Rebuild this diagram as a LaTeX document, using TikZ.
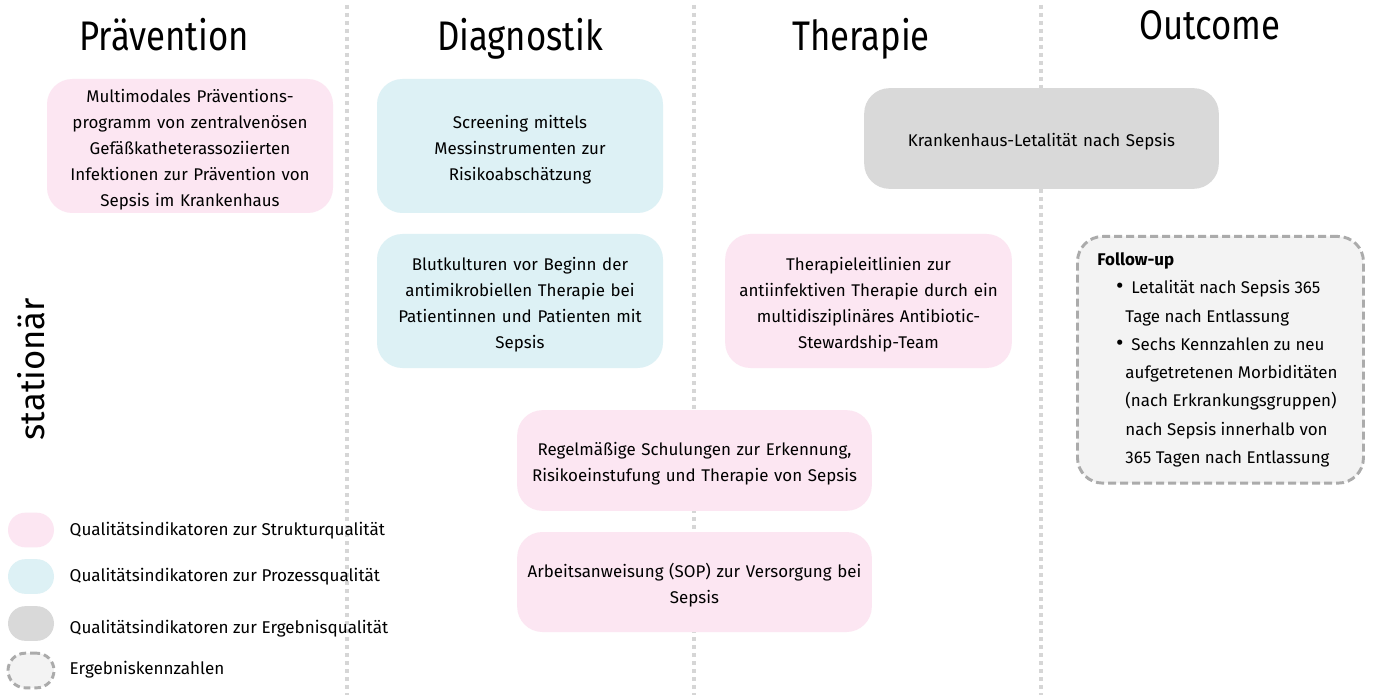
\documentclass[tikz,border=0pt]{standalone}
\usepackage{fontspec}
\setmainfont{Fira Sans}
\newfontfamily\headfont[FakeStretch=0.84]{Fira Sans}
\usetikzlibrary{positioning}
\definecolor{pinkq}{HTML}{FCE6F2}
\definecolor{cyanq}{HTML}{DDF1F5}
\definecolor{grayq}{HTML}{D9D9D9}
\definecolor{lightq}{HTML}{F3F3F3}
\definecolor{dashq}{HTML}{ABABAB}
\definecolor{dotq}{HTML}{D6D6D6}
\begin{document}
\begin{tikzpicture}[x=0.75pt,y=-0.75pt,
  qbox/.style={rounded corners=19pt, inner sep=0pt, align=center,
    font=\fontsize{12.7}{19.5}\selectfont, text=black},
  textdown/.style={execute at begin node={\rule{0pt}{15pt}}},
  struct/.style={qbox, textdown, fill=pinkq},
  proc/.style={qbox, textdown, fill=cyanq},
  ergeb/.style={qbox, textdown, fill=grayq},
  head/.style={font=\headfont\fontsize{31}{36}\selectfont, anchor=base},
  sepline/.style={dotq, line width=3.5pt, dash pattern=on 3pt off 3pt},
  legtext/.style={anchor=west, font=\fontsize{12.8}{15}\selectfont},
  legbox/.style={rounded corners=13pt, minimum width=34.5pt, minimum height=26pt, inner sep=0pt}
]
\useasboundingbox[fill=white] (0,0) rectangle (1389,695);

% separators
\coordinate (s1t) at (347,5); \coordinate (s1b) at (347,695);
\coordinate (s2t) at (694,5); \coordinate (s2b) at (694,695);
\coordinate (s3t) at (1041,5); \coordinate (s3b) at (1041,695);
\draw[sepline] (s1t) -- (s1b);
\draw[sepline] (s2t) -- (s2b);
\draw[sepline] (s3t) -- (s3b);

% headings
\node[head] (hp) at (164,51) {Prävention};
\node[head] (hd) at (520,51) {Diagnostik};
\node[head] (ht) at (861,51) {Therapie};
\node[head] (ho) at (1210,40) {Outcome};

% side label
\node[rotate=90, font=\fontsize{26}{30}\selectfont] (stat) at (31,369) {stationär};

% boxes
\node[struct, minimum width=214.5pt, minimum height=100.5pt, text width=210pt] (prae) at (190,146)
  {Multimodales Präventions-\\programm von zentralvenösen\\Gefäßkatheterassoziierten\\Infektionen zur Prävention von\\Sepsis im Krankenhaus};
\node[proc, minimum width=214.5pt, minimum height=100.5pt, text width=210pt] (scr) at (520,146)
  {Screening mittels\\Messinstrumenten zur\\Risikoabschätzung};
\node[proc, minimum width=214.5pt, minimum height=100.5pt, text width=210pt] (blut) at (520,301)
  {Blutkulturen vor Beginn der\\antimikrobiellen Therapie bei\\Patientinnen und Patienten mit\\Sepsis};
\node[ergeb, minimum width=266pt, minimum height=75.5pt, text width=260pt] (let) at (1041.5,138.5)
  {Krankenhaus-Letalität nach Sepsis};
\node[struct, minimum width=215pt, minimum height=100.5pt, text width=210pt] (ther) at (868.5,301)
  {Therapieleitlinien zur\\antiinfektiven Therapie durch ein\\multidisziplinäres Antibiotic-\\Stewardship-Team};
\node[struct, minimum width=266pt, minimum height=75.5pt, text width=260pt] (schul) at (694.5,460.5)
  {Regelmäßige Schulungen zur Erkennung,\\Risikoeinstufung und Therapie von Sepsis};
\node[struct, minimum width=266pt, minimum height=75pt, text width=260pt] (sop) at (694.5,582)
  {Arbeitsanweisung (SOP) zur Versorgung bei\\Sepsis};

% follow-up box
\node[qbox, fill=lightq, draw=dashq, line width=2.2pt, dash pattern=on 6pt off 3pt,
      minimum width=214.5pt, minimum height=185pt, align=left, anchor=north west,
      font=\fontsize{12.7}{21.2}\selectfont] (fu) at (1076,235)
  {\begin{minipage}[c][172pt][c]{184.5pt}
   \textbf{Follow-up}\\
   \hspace*{14pt}\makebox[11.5pt][l]{\scalebox{1.35}{\textbullet}}Letalität nach Sepsis 365\\
   \hspace*{21pt}Tage nach Entlassung\\
   \hspace*{14pt}\makebox[11.5pt][l]{\scalebox{1.35}{\textbullet}}Sechs Kennzahlen zu neu\\
   \hspace*{21pt}aufgetretenen Morbiditäten\\
   \hspace*{21pt}(nach Erkrankungsgruppen)\\
   \hspace*{21pt}nach Sepsis innerhalb von\\
   \hspace*{21pt}365 Tagen nach Entlassung
   \end{minipage}};

% legend
\node[legbox, fill=pinkq] (l1) at (31,530) {};
\node[legbox, fill=cyanq] (l2) at (31,576.5) {};
\node[legbox, fill=grayq] (l3) at (31,623.5) {};
\node[legbox, fill=lightq, draw=dashq, line width=2.2pt, dash pattern=on 5pt off 3pt] (l4) at (31,670.5) {};
\node[legtext] (t1) at (65,531) {Qualitätsindikatoren zur Strukturqualität};
\node[legtext] (t2) at (65,577) {Qualitätsindikatoren zur Prozessqualität};
\node[legtext] (t3) at (65,629) {Qualitätsindikatoren zur Ergebnisqualität};
\node[legtext] (t4) at (65,670) {Ergebniskennzahlen};
\end{tikzpicture}
\end{document}
